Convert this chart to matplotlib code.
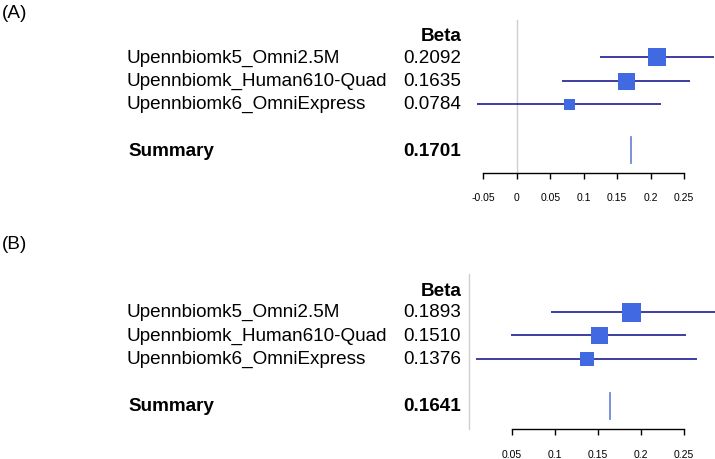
import matplotlib
matplotlib.use("Agg")
import matplotlib.pyplot as plt
import matplotlib.transforms as mtransforms

plt.rcParams["font.family"] = ["Liberation Sans", "DejaVu Sans"]

studies = ["Upennbiomk5_Omni2.5M", "Upennbiomk_Human610-Quad", "Upennbiomk6_OmniExpress"]

# panel A
beta_a = [0.2092, 0.1635, 0.0784]
lo_a = [0.124, 0.068, -0.060]
hi_a = [0.295, 0.259, 0.215]
box_a = [18, 17, 11]          # box side in px (weights)
summ_a = 0.1701
ticks_a = [-0.05, 0, 0.05, 0.1, 0.15, 0.2, 0.25]

# panel B
beta_b = [0.1893, 0.1510, 0.1376]
lo_b = [0.096, 0.049, 0.009]
hi_b = [0.290, 0.253, 0.266]
box_b = [19, 17, 14]
summ_b = 0.1641
ticks_b = [0.05, 0.1, 0.15, 0.2, 0.25]

W, H = 715, 460
fig = plt.figure(figsize=(W / 100, H / 100), dpi=100)


def panel(tag, top, bot, x0, ppu, row0, step, beta, lo, hi, box, summ, ticks, pad):
    ax = fig.add_axes([0, 1 - bot / H, 1, (bot - top) / H])
    ax.set_xlim(-x0 / ppu, (W - x0) / ppu)
    ax.set_ylim((bot - row0) / step, (top - row0) / step)
    ax.patch.set_alpha(0)
    for s in ["top", "left", "right"]:
        ax.spines[s].set_visible(False)
    ax.set_yticks([])

    rows = list(range(len(beta)))
    ysum = 4
    ax.plot([0, 0], [-1.6, 5], color="#cfcfcf", lw=1, zorder=1)
    for r, b, l, h, s in zip(rows, beta, lo, hi, box):
        ax.plot([l, h], [r, r], color="#1c1c90", lw=1.2, zorder=2, solid_capstyle="butt")
        ax.plot(b, r, "s", ms=s * 0.72, color="#4169e1", mew=0, zorder=3)
    ax.plot([summ, summ], [ysum - 0.55, ysum + 0.55], color="#7088d8", lw=1.3)

    ax.spines["bottom"].set_position(("data", 5))
    ax.spines["bottom"].set_bounds(ticks[0], ticks[-1])
    ax.spines["bottom"].set_linewidth(1)
    ax.set_xticks(ticks)
    ax.set_xticklabels([f"{t:g}" for t in ticks], fontsize=7.5)
    ax.tick_params(axis="x", direction="out", length=4, width=1, pad=pad)

    tr = mtransforms.blended_transform_factory(fig.transFigure, ax.transData)
    fs = 13.6
    ax.text(462 / W, -0.92, "Beta", transform=tr, fontsize=fs, weight="bold",
            ha="right", va="center")
    for r, name, b in zip(rows, studies, beta):
        ax.text(127 / W, r, name, transform=tr, fontsize=fs, ha="left", va="center")
        ax.text(403 / W, r, f"{b:.4f}", transform=tr, fontsize=fs, ha="left", va="center")
    ax.text(128 / W, ysum, "Summary", transform=tr, fontsize=fs, weight="bold",
            ha="left", va="center")
    ax.text(403 / W, ysum, f"{summ:.4f}", transform=tr, fontsize=fs, weight="bold",
            ha="left", va="center")
    fig.text(2 / W, 1 - (top + 14) / H, tag, fontsize=fs, ha="left", va="center")
    return ax


panel("(A)", 0, 230, 516.7, 670, 58.3, 23.2, beta_a, lo_a, hi_a, box_a, summ_a, ticks_a, 9.5)
panel("(B)", 231, 460, 468.7, 860, 312.7, 23.5, beta_b, lo_b, hi_b, box_b, summ_b, ticks_b, 10)

fig.savefig("out.png", dpi=100)
